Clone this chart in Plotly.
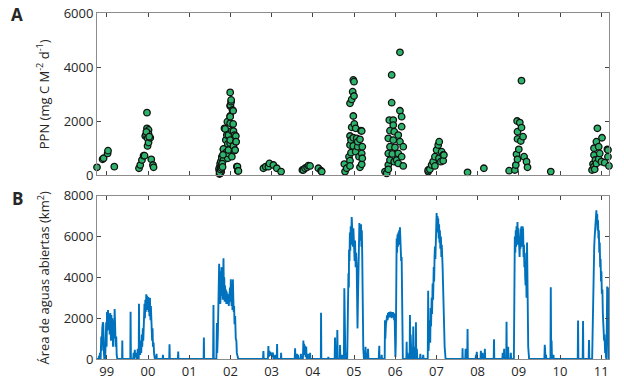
import plotly.graph_objects as go

# ---------------- Panel A: PPN (year, mg C m-2 d-1) ----------------
ppn_1999 = [(1998.762, 285), (1998.898, 580), (1998.922, 620), (1999.019, 800), (1999.029, 900), (1999.182, 310)]
ppn_2000 = [(1999.781, 250), (1999.812, 370), (1999.853, 555), (1999.892, 715), (1999.916, 715), (1999.933, 1445),
            (1999.950, 1480), (1999.975, 2310), (1999.975, 1730), (1999.989, 1360), (1999.989, 1075), (2000.013, 1670),
            (2000.013, 1520), (2000.013, 1200), (2000.055, 1380), (2000.079, 580), (2000.120, 370), (2000.135, 285),
            (1999.960, 1600), (2000.030, 1420)]
ppn_2002 = [(2001.727, 185), (2001.727, 250), (2001.735, 37), (2001.752, 335), (2001.752, 430), (2001.752, 60),
            (2001.768, 495), (2001.776, 120), (2001.793, 680), (2001.793, 370), (2001.793, 620), (2001.832, 950),
            (2001.832, 555), (2001.832, 965), (2001.856, 1730), (2001.873, 1705), (2001.889, 1295), (2001.889, 825),
            (2001.913, 1480), (2001.927, 1975), (2001.937, 620), (2001.937, 1150), (2001.937, 800), (2001.952, 1480),
            (2001.952, 925), (2001.994, 2185), (2001.994, 1915), (2001.994, 1175), (2001.994, 2160), (2001.994, 2555),
            (2001.994, 3060), (2001.994, 1295), (2002.001, 2590), (2002.018, 2715), (2002.018, 2780), (2002.035, 1640),
            (2002.035, 680), (2002.050, 2410), (2002.067, 2380), (2002.067, 1890), (2002.074, 1075), (2002.074, 1630),
            (2002.098, 1480), (2002.098, 900), (2002.115, 925), (2002.132, 1445), (2002.132, 1235), (2002.139, 1235),
            (2002.156, 310), (2002.171, 310), (2002.181, 150), (2002.195, 150), (2001.740, 90), (2001.760, 200),
            (2001.780, 260), (2001.800, 420), (2001.810, 300), (2001.820, 750)]
ppn_2003 = [(2002.801, 250), (2002.859, 310), (2002.922, 310), (2002.947, 430), (2003.044, 370), (2003.126, 250),
            (2003.230, 125)]
ppn_2004 = [(2003.747, 185), (2003.771, 185), (2003.812, 250), (2003.861, 285), (2003.892, 345), (2003.933, 335),
            (2004.135, 250), (2004.200, 160), (2004.217, 125)]
ppn_2005 = [(2004.765, 405), (2004.782, 125), (2004.823, 250), (2004.879, 680), (2004.903, 2655), (2004.903, 1445),
            (2004.903, 1110), (2004.903, 530), (2004.903, 335), (2004.927, 825), (2004.927, 1295), (2004.944, 2800),
            (2004.944, 1765), (2004.968, 3085), (2004.983, 3520), (2004.983, 2185), (2004.983, 1380), (2004.983, 1075),
            (2005.000, 3455), (2005.000, 2925), (2005.007, 1890), (2005.041, 1730), (2005.041, 865), (2005.065, 1360),
            (2005.090, 1050), (2005.090, 1235), (2005.121, 680), (2005.145, 1320), (2005.145, 285), (2005.170, 1640),
            (2005.187, 800), (2005.187, 395), (2005.187, 1630), (2005.201, 1050), (2005.201, 620)]
ppn_2006 = [(2005.752, 125), (2005.793, 60), (2005.832, 1360), (2005.832, 800), (2005.832, 370), (2005.832, 210),
            (2005.856, 2035), (2005.873, 1640), (2005.873, 1050), (2005.873, 555), (2005.914, 3705), (2005.914, 2680),
            (2005.929, 780), (2005.953, 2035), (2005.953, 1850), (2005.953, 1295), (2005.977, 1605), (2005.977, 495),
            (2005.994, 1025), (2006.035, 555), (2006.074, 1480), (2006.074, 800), (2006.074, 430), (2006.115, 4545),
            (2006.115, 2380), (2006.115, 1235), (2006.156, 2160), (2006.156, 1790), (2006.156, 680), (2006.195, 1050),
            (2006.195, 335)]
ppn_2007 = [(2006.801, 125), (2006.801, 185), (2006.842, 210), (2006.883, 370), (2006.922, 495), (2006.964, 680),
            (2006.964, 335), (2007.005, 925), (2007.044, 1110), (2007.061, 620), (2007.068, 1235), (2007.109, 495),
            (2007.126, 865), (2007.165, 740), (2007.165, 530), (2007.182, 740)]
ppn_2008 = [(2007.756, 100), (2008.152, 250)]
ppn_2009 = [(2008.765, 160), (2008.903, 185), (2008.927, 370), (2008.944, 765), (2008.959, 2000), (2008.968, 1605),
            (2008.968, 1335), (2008.968, 580), (2009.000, 950), (2009.024, 1940), (2009.048, 1260), (2009.065, 3495),
            (2009.065, 1755), (2009.103, 1420), (2009.128, 680), (2009.187, 495), (2009.211, 285)]
ppn_2010 = [(2009.776, 125)]
ppn_2011 = [(2010.777, 185), (2010.801, 405), (2010.825, 990), (2010.825, 740), (2010.825, 310), (2010.842, 210),
            (2010.859, 555), (2010.883, 1235), (2010.883, 430), (2010.907, 1730), (2010.939, 1050), (2010.939, 590),
            (2010.964, 800), (2011.005, 495), (2011.019, 1380), (2011.085, 455), (2011.150, 950), (2011.164, 680),
            (2011.164, 925), (2011.188, 335)]

# ---------------- Panel B: open-water area (year, km2) ----------------
area_99 = [(1998.762, 0), (1998.80, 0), (1998.81, 150), (1998.82, 0), (1998.835, 300), (1998.85, 0), (1998.865, 1100),
           (1998.875, 400), (1998.89, 1500), (1998.905, 1800), (1998.915, 1700), (1998.93, 300), (1998.94, 0),
           (1998.96, 0), (1998.975, 700), (1998.985, 1800), (1998.995, 600), (1999.005, 2300), (1999.02, 1400),
           (1999.03, 2400), (1999.045, 1600), (1999.06, 2200), (1999.07, 1200), (1999.085, 2250), (1999.10, 900),
           (1999.11, 2150), (1999.125, 1400), (1999.135, 2000), (1999.15, 600), (1999.165, 1900), (1999.18, 1000),
           (1999.19, 2450), (1999.20, 1800), (1999.215, 600), (1999.23, 1100), (1999.24, 200), (1999.255, 0),
           (1999.37, 0), (1999.376, 900), (1999.382, 0), (1999.57, 0), (1999.577, 2320), (1999.585, 0), (1999.64, 0),
           (1999.65, 300), (1999.66, 0), (1999.68, 450), (1999.69, 100), (1999.71, 300), (1999.72, 0), (1999.74, 0),
           (1999.75, 500), (1999.76, 0), (1999.775, 0)]
area_00 = [(1999.781, 2700), (1999.79, 400), (1999.80, 800), (1999.81, 200), (1999.82, 900), (1999.835, 300),
           (1999.85, 1200), (1999.86, 600), (1999.875, 1500), (1999.885, 900), (1999.895, 2200), (1999.905, 1400),
           (1999.915, 2700), (1999.925, 2000), (1999.935, 2900), (1999.945, 2300), (1999.958, 3170), (1999.97, 2400),
           (1999.98, 3100), (1999.99, 2500), (2000.005, 3030), (2000.015, 2300), (2000.025, 3000), (2000.035, 2100),
           (2000.047, 3000), (2000.06, 1900), (2000.07, 2600), (2000.08, 1500), (2000.09, 2400), (2000.10, 900),
           (2000.11, 1500), (2000.12, 600), (2000.135, 800), (2000.15, 200), (2000.168, 0)]
area_01 = [(2000.20, 0), (2000.207, 250), (2000.215, 0), (2000.355, 0), (2000.362, 200), (2000.37, 0), (2000.515, 0),
           (2000.522, 720), (2000.53, 0), (2000.725, 0), (2000.733, 360), (2000.74, 0), (2001.35, 0),
           (2001.356, 1050), (2001.363, 0), (2001.58, 0), (2001.589, 2650), (2001.597, 0), (2001.66, 0)]
area_02 = [(2001.672, 1760), (2001.68, 300), (2001.695, 1200), (2001.705, 2200), (2001.715, 3400), (2001.727, 4660),
           (2001.735, 3000), (2001.745, 4300), (2001.755, 2700), (2001.765, 4000), (2001.775, 3200), (2001.785, 4500),
           (2001.793, 3100), (2001.805, 4200), (2001.815, 2900), (2001.825, 4600), (2001.832, 4940), (2001.84, 3300),
           (2001.85, 4000), (2001.86, 2800), (2001.87, 3600), (2001.88, 2900), (2001.89, 3400), (2001.90, 2700),
           (2001.91, 3300), (2001.92, 2800), (2001.93, 3200), (2001.94, 2700), (2001.95, 3100), (2001.96, 2600),
           (2001.97, 3200), (2001.98, 2900), (2001.99, 3500), (2002.00, 2800), (2002.01, 3900), (2002.018, 3000),
           (2002.03, 2600), (2002.04, 3300), (2002.05, 2400), (2002.06, 3900), (2002.07, 3000), (2002.08, 2300),
           (2002.09, 2600), (2002.10, 1700), (2002.115, 2100), (2002.13, 1000), (2002.145, 900), (2002.156, 300),
           (2002.17, 100), (2002.19, 0)]
area_03 = [(2002.79, 0), (2002.801, 390), (2002.81, 0), (2002.91, 0), (2002.922, 640), (2002.93, 100),
           (2002.945, 400), (2002.955, 150), (2002.97, 350), (2002.98, 200), (2003.00, 300), (2003.01, 100),
           (2003.03, 320), (2003.045, 0), (2003.075, 0), (2003.085, 200), (2003.095, 0), (2003.125, 0),
           (2003.133, 740), (2003.14, 0), (2003.225, 0), (2003.23, 300), (2003.237, 0)]
area_04 = [(2003.56, 0), (2003.57, 520), (2003.578, 0), (2003.60, 150), (2003.615, 250), (2003.625, 0),
           (2003.64, 200), (2003.65, 0), (2003.70, 0), (2003.71, 250), (2003.72, 0), (2003.76, 0), (2003.771, 900),
           (2003.78, 200), (2003.79, 750), (2003.80, 300), (2003.815, 650), (2003.825, 100), (2003.84, 600),
           (2003.85, 0), (2003.875, 0), (2003.885, 250), (2003.895, 0), (2003.93, 0), (2003.935, 300), (2003.94, 0),
           (2004.195, 0), (2004.20, 2270), (2004.207, 0), (2004.37, 0), (2004.377, 100), (2004.385, 0),
           (2004.53, 0), (2004.539, 1050), (2004.547, 0), (2004.585, 0), (2004.595, 1420), (2004.605, 0),
           (2004.655, 0), (2004.661, 690), (2004.67, 0), (2004.70, 0), (2004.71, 200), (2004.72, 0), (2004.755, 0),
           (2004.765, 3470), (2004.775, 0), (2004.79, 0), (2004.80, 300), (2004.81, 0), (2004.835, 0)]
area_05 = [(2004.845, 2500), (2004.855, 1200), (2004.865, 4200), (2004.875, 3500), (2004.879, 5350), (2004.89, 4800),
           (2004.90, 6200), (2004.91, 5300), (2004.92, 6500), (2004.93, 5600), (2004.944, 6950), (2004.955, 6000),
           (2004.965, 6700), (2004.975, 5500), (2004.985, 6400), (2004.995, 5200), (2005.005, 6100), (2005.015, 4800),
           (2005.025, 5800), (2005.04, 4500), (2005.05, 5200), (2005.065, 4610), (2005.075, 3000), (2005.085, 1500),
           (2005.095, 2800), (2005.105, 4000), (2005.115, 5500), (2005.13, 6660), (2005.14, 5900), (2005.15, 6500),
           (2005.16, 5800), (2005.17, 6600), (2005.18, 5500), (2005.19, 6300), (2005.20, 5000), (2005.211, 1900),
           (2005.225, 500), (2005.242, 0), (2005.27, 0), (2005.28, 600), (2005.29, 0), (2005.30, 300), (2005.31, 0),
           (2005.33, 0), (2005.34, 500), (2005.35, 0)]
area_06 = [(2005.60, 0), (2005.613, 650), (2005.62, 0), (2005.665, 0), (2005.672, 200), (2005.68, 0), (2005.745, 0),
           (2005.752, 1900), (2005.76, 1000), (2005.775, 1700), (2005.785, 2000), (2005.795, 1800), (2005.805, 2150),
           (2005.815, 1900), (2005.825, 2250), (2005.835, 2000), (2005.845, 2300), (2005.855, 2100), (2005.865, 2300),
           (2005.875, 2050), (2005.885, 2320), (2005.895, 2100), (2005.905, 2300), (2005.915, 2000), (2005.925, 2250),
           (2005.935, 2050), (2005.945, 2300), (2005.955, 2100), (2005.965, 2250), (2005.975, 1900), (2005.985, 2200),
           (2005.994, 1500), (2006.005, 100), (2006.015, 800), (2006.025, 3500), (2006.035, 5900), (2006.045, 5200),
           (2006.055, 6100), (2006.065, 5500), (2006.075, 6200), (2006.085, 5600), (2006.095, 6300), (2006.105, 5800),
           (2006.115, 6450), (2006.125, 5700), (2006.135, 6000), (2006.145, 4800), (2006.156, 5000), (2006.165, 3500),
           (2006.175, 1500), (2006.185, 0), (2006.27, 0), (2006.278, 850), (2006.285, 0), (2006.30, 300),
           (2006.31, 0), (2006.35, 0), (2006.358, 2160), (2006.365, 600), (2006.375, 1200), (2006.385, 200),
           (2006.395, 0), (2006.43, 0), (2006.438, 1590), (2006.445, 300), (2006.46, 600), (2006.47, 0),
           (2006.495, 0), (2006.503, 1800), (2006.51, 200), (2006.525, 500), (2006.535, 0), (2006.60, 0),
           (2006.61, 250), (2006.62, 0), (2006.67, 0), (2006.68, 200), (2006.69, 0), (2006.79, 0)]
area_07 = [(2006.80, 3340), (2006.81, 400), (2006.825, 1500), (2006.84, 1900), (2006.85, 800), (2006.86, 2500),
           (2006.87, 1600), (2006.885, 3000), (2006.895, 2200), (2006.908, 3700), (2006.92, 2900), (2006.935, 4500),
           (2006.945, 3800), (2006.955, 5000), (2006.964, 5510), (2006.975, 4900), (2006.985, 6400), (2006.995, 5900),
           (2007.005, 7150), (2007.015, 6500), (2007.025, 7000), (2007.035, 6200), (2007.044, 6900), (2007.055, 5900),
           (2007.065, 6600), (2007.075, 5700), (2007.085, 6300), (2007.095, 5400), (2007.109, 6000), (2007.12, 5000),
           (2007.13, 5600), (2007.15, 4530), (2007.165, 3000), (2007.182, 1900), (2007.20, 600), (2007.223, 0)]
area_08 = [(2007.63, 0), (2007.635, 520), (2007.64, 0), (2007.70, 0), (2007.708, 500), (2007.715, 0), (2007.748, 0),
           (2007.756, 1470), (2007.763, 0), (2007.95, 0), (2007.96, 200), (2007.97, 0), (2007.98, 350), (2007.99, 0),
           (2008.07, 0), (2008.079, 400), (2008.088, 0), (2008.11, 0), (2008.12, 300), (2008.13, 0), (2008.168, 0),
           (2008.176, 500), (2008.185, 0), (2008.39, 0), (2008.398, 970), (2008.405, 0), (2008.60, 0),
           (2008.61, 300), (2008.62, 0)]
area_09 = [(2008.636, 0), (2008.644, 500), (2008.65, 0), (2008.695, 0), (2008.702, 1830), (2008.71, 0),
           (2008.735, 0), (2008.741, 600), (2008.75, 0), (2008.80, 0), (2008.806, 300), (2008.815, 0), (2008.88, 0),
           (2008.886, 1500), (2008.895, 3500), (2008.903, 6000), (2008.915, 5200), (2008.925, 6300), (2008.935, 5500),
           (2008.944, 6500), (2008.955, 6000), (2008.968, 6710), (2008.98, 5600), (2008.99, 6400), (2009.00, 5300),
           (2009.01, 6200), (2009.02, 5000), (2009.03, 6000), (2009.04, 5400), (2009.05, 6300), (2009.065, 6500),
           (2009.08, 5500), (2009.09, 6490), (2009.104, 6330), (2009.115, 5000), (2009.125, 5600), (2009.135, 4500),
           (2009.145, 5200), (2009.155, 4000), (2009.165, 3600), (2009.175, 4800), (2009.187, 3000), (2009.20, 5710),
           (2009.211, 4000), (2009.22, 1500), (2009.228, 600), (2009.25, 0)]
area_10 = [(2009.62, 0), (2009.63, 700), (2009.637, 0), (2009.65, 0), (2009.66, 200), (2009.67, 0), (2009.768, 0),
           (2009.776, 3520), (2009.784, 800), (2009.795, 900), (2009.805, 0), (2009.83, 0), (2009.84, 200),
           (2009.85, 0)]
area_11 = [(2010.43, 0), (2010.438, 1880), (2010.446, 0), (2010.55, 0), (2010.559, 1860), (2010.567, 0),
           (2010.695, 0), (2010.704, 930), (2010.712, 0), (2010.78, 0), (2010.79, 1500), (2010.80, 3000),
           (2010.81, 4500), (2010.82, 4000), (2010.83, 5500), (2010.842, 6000), (2010.852, 6500), (2010.862, 6200),
           (2010.872, 7000), (2010.883, 7280), (2010.893, 6600), (2010.903, 7100), (2010.913, 6300), (2010.923, 6800),
           (2010.933, 5900), (2010.943, 6300), (2010.953, 5200), (2010.964, 5700), (2010.975, 4500), (2010.985, 4900),
           (2010.995, 3800), (2011.005, 4300), (2011.015, 3200), (2011.029, 3400), (2011.04, 2200), (2011.05, 1500),
           (2011.06, 2000), (2011.07, 900), (2011.08, 1200), (2011.085, 800), (2011.095, 300), (2011.105, 600),
           (2011.115, 100), (2011.126, 0), (2011.135, 1500), (2011.145, 3550), (2011.155, 2000), (2011.164, 3500),
           (2011.172, 800), (2011.18, 0)]

year_ticks = list(range(1999, 2012))
year_labels = ["99", "00", "01", "02", "03", "04", "05", "06", "07", "08", "09", "10", "11"]

ppn_all = ppn_1999 + ppn_2000 + ppn_2002 + ppn_2003 + ppn_2004 + ppn_2005 + ppn_2006 + ppn_2007 + ppn_2008 + ppn_2009 + ppn_2010 + ppn_2011
area_all = area_99 + area_00 + area_01 + area_02 + area_03 + area_04 + area_05 + area_06 + area_07 + area_08 + area_09 + area_10 + area_11

FONT = "Open Sans"
TXT = "#262626"
LINE = "#8c8c8c"

fig = go.Figure()
fig.add_trace(go.Scatter(
    x=[p[0] for p in ppn_all], y=[p[1] for p in ppn_all], mode="markers",
    marker=dict(size=6.5, color="#2eb36c", line=dict(color="#111111", width=1.3)),
    cliponaxis=False, xaxis="x", yaxis="y", showlegend=False))
fig.add_trace(go.Scatter(
    x=[p[0] for p in area_all], y=[p[1] for p in area_all], mode="lines",
    line=dict(color="#0072BD", width=1.9), xaxis="x2", yaxis="y2", showlegend=False))

xr = [1998.762, 2011.189]
common_x = dict(range=xr, tickvals=year_ticks, ticks="inside", ticklen=4, tickcolor="#444",
                showline=True, linecolor=LINE, linewidth=1, mirror="ticks", showgrid=False, zeroline=False,
                automargin=False, tickfont=dict(family=FONT, size=13, color=TXT))
common_y = dict(ticks="inside", ticklen=4, tickcolor="#444", showline=True, linecolor=LINE, linewidth=1,
                mirror="ticks", showgrid=False, zeroline=False, dtick=2000, automargin=False,
                tickfont=dict(family=FONT, size=13, color=TXT))

fig.update_layout(
    width=624, height=381, margin=dict(l=97, r=15, t=13, b=22, autoexpand=False),
    paper_bgcolor="white", plot_bgcolor="white",
    xaxis=dict(domain=[0, 1], anchor="y", showticklabels=False, **common_x),
    yaxis=dict(domain=[0.5318, 1], anchor="x", range=[0, 6000], **common_y),
    xaxis2=dict(domain=[0, 1], anchor="y2", ticktext=year_labels, **common_x),
    yaxis2=dict(domain=[0, 0.472], anchor="x2", range=[0, 8000], **common_y),
    annotations=[
        dict(text="PPN (mg C M<sup>-2</sup> d<sup>-1</sup>)", xref="paper", yref="paper", x=-0.105, y=0.766,
             textangle=-90, showarrow=False, xanchor="center", yanchor="middle",
             font=dict(family=FONT, size=13, color=TXT)),
        dict(text="Área de aguas abiertas (km<sup>2</sup>)", xref="paper", yref="paper", x=-0.105, y=0.236,
             textangle=-90, showarrow=False, xanchor="center", yanchor="middle",
             font=dict(family=FONT, size=13, color=TXT)),
        dict(text="<b>A</b>", xref="paper", yref="paper", x=-0.156, y=0.996, showarrow=False,
             xanchor="center", yanchor="middle", font=dict(family=FONT, size=17, color=TXT)),
        dict(text="<b>B</b>", xref="paper", yref="paper", x=-0.156, y=0.465, showarrow=False,
             xanchor="center", yanchor="middle", font=dict(family=FONT, size=17, color=TXT)),
    ],
)

fig.write_html("out.html", config={"displayModeBar": False},
               post_script="document.body.style.margin='0';document.body.style.padding='0';"
                           "document.documentElement.style.overflow='hidden';")
